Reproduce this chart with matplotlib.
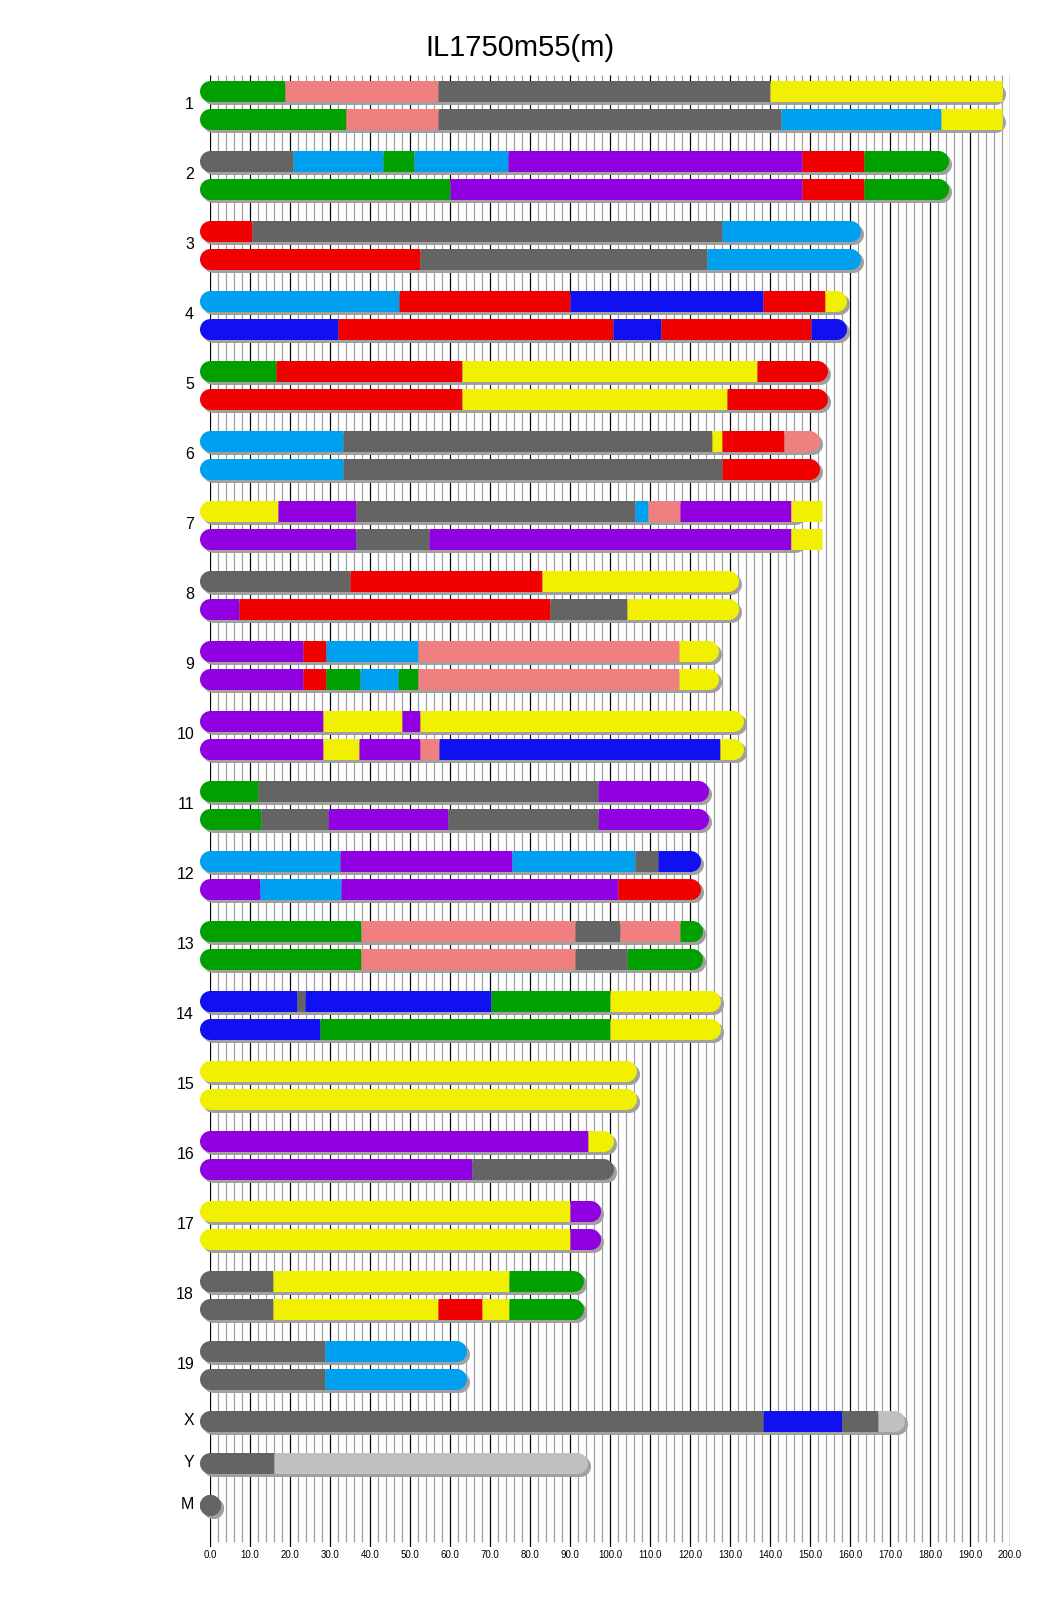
import matplotlib
matplotlib.use("Agg")
import matplotlib.pyplot as plt
from matplotlib.transforms import offset_copy

plt.rcParams['font.family'] = ['Liberation Sans', 'DejaVu Sans']

# founder colours (CC letters), N = no call
colors = {'A': '#f0f000', 'B': '#646464', 'C': '#f08080', 'D': '#1010f0',
          'E': '#00a0f0', 'F': '#00a000', 'G': '#f00000', 'H': '#9000e0',
          'N': '#c0c0c0'}

chrom_names = ['1', '2', '3', '4', '5', '6', '7', '8', '9', '10', '11', '12',
               '13', '14', '15', '16', '17', '18', '19', 'X', 'Y', 'M']
chrom_len = [195.5, 182.1, 160.0, 156.5, 151.8, 149.7, 145.4, 129.4, 124.6,
             130.7, 122.1, 120.1, 120.4, 124.9, 104.0, 98.2, 95.0, 90.7, 61.4,
             171.0, 91.7, 0.016]

# haplotype 1 (upper bar): strain per segment and segment ends (Mb)
hap1_strains = ['FCBA', 'BEFEHGF', 'GBE', 'EGDGA', 'FGAG', 'EBAGC', 'AHBECHA',
                'BGA', 'HGECA', 'HAHA', 'FBH', 'EHEBD', 'FCBCF', 'DBDFA', 'A',
                'HA', 'AH', 'BAF', 'BE', 'BDBN', 'BN', 'B']
hap1_ends = [
    [18.8, 57.0, 140.1, 198.0],
    [20.8, 43.3, 51.0, 74.5, 148.0, 163.6, 182.1],
    [10.4, 127.9, 160.0],
    [47.2, 90.0, 138.2, 153.7, 156.5],
    [16.6, 63.0, 136.7, 151.8],
    [33.3, 125.6, 128.0, 143.6, 149.7],
    [17.1, 36.4, 106.2, 109.4, 117.5, 145.25, 153.0],
    [35.1, 83.05, 129.4],
    [23.3, 28.9, 51.9, 117.3, 124.6],
    [28.2, 48.0, 52.4, 130.7],
    [11.9, 97.0, 122.1],
    [32.5, 75.6, 106.2, 111.9, 120.1],
    [37.7, 91.3, 102.6, 117.6, 120.4],
    [21.7, 23.8, 70.2, 100.1, 124.9],
    [104.0],
    [94.6, 98.2],
    [90.0, 95.0],
    [15.8, 74.8, 90.7],
    [28.8, 61.4],
    [138.2, 158.0, 167.1, 171.0],
    [16.0, 91.7],
    [0.016],
]

# haplotype 2 (lower bar), none for X, Y, M
hap2_strains = ['FCBEA', 'FHGF', 'GBE', 'DGDGD', 'GAG', 'EBG', 'HBHA', 'HGBA',
                'HGFEFCA', 'HAHCDA', 'FBHBH', 'HEHG', 'FCBF', 'DFA', 'A', 'HB',
                'AH', 'BAGAF', 'BE', None, None, None]
hap2_ends = [
    [34.0, 57.0, 142.8, 182.8, 198.0],
    [60.0, 148.0, 163.6, 182.1],
    [52.6, 124.3, 160.0],
    [32.0, 100.8, 112.7, 150.3, 156.5],
    [63.0, 129.2, 151.8],
    [33.3, 128.0, 149.7],
    [36.4, 54.7, 145.25, 153.0],
    [7.3, 85.1, 104.2, 129.4],
    [23.3, 28.9, 37.4, 47.0, 51.9, 117.3, 124.6],
    [28.2, 37.2, 52.4, 57.3, 127.6, 130.7],
    [12.7, 29.4, 59.6, 97.0, 122.1],
    [12.4, 32.8, 101.9, 120.1],
    [37.7, 91.3, 104.2, 120.4],
    [27.4, 100.1, 124.9],
    [104.0],
    [65.5, 98.2],
    [90.0, 95.0],
    [15.8, 57.0, 68.1, 74.8, 90.7],
    [28.8, 61.4],
    None, None, None,
]

W, H = 1040, 1616
fig = plt.figure(figsize=(W / 100, H / 100), dpi=100)
top_px, bot_px = 74, 1547
ax = fig.add_axes([210 / W, (H - bot_px) / H, 800 / W, (bot_px - top_px) / H])
ax.set_xlim(0, 200)
ax.set_ylim(bot_px, top_px)
ax.axis('off')

# grid: black every 10, grey every 2
for x in range(0, 201, 2):
    if x % 10 == 0:
        ax.vlines(x, top_px + 1, bot_px, color='black', lw=0.9, zorder=1)
        ax.text(x, 1555, '%.1f' % x, ha='center', va='center', fontsize=7)
    else:
        ax.vlines(x, top_px + 1, bot_px - 5, color='#a0a0a0', lw=0.9, zorder=1)

bar_lw = 21 * 72 / 100
shadow = offset_copy(ax.transData, fig=fig, x=3, y=-3, units='dots')


def draw_bar(y, length, strains, ends):
    # shadow
    ax.plot([0, length], [y, y], color='#a0a0a0', lw=bar_lw,
            solid_capstyle='butt', transform=shadow, zorder=2, clip_on=False)
    ax.plot([0, length], [y, y], 'o', ms=bar_lw, mew=0, color='#a0a0a0',
            transform=shadow, zorder=2, clip_on=False)
    # rounded ends
    ax.plot([0], [y], 'o', ms=bar_lw, mew=0, color=colors[strains[0]],
            zorder=3, clip_on=False)
    ax.plot([length], [y], 'o', ms=bar_lw, mew=0, color=colors[strains[-1]],
            zorder=3, clip_on=False)
    start = 0
    for s, e in zip(strains, ends):
        ax.plot([start, e], [y, y], color=colors[s], lw=bar_lw,
                solid_capstyle='butt', zorder=4, clip_on=False)
        start = e


y = 90.5
for i, name in enumerate(chrom_names):
    ys = [y]
    draw_bar(y, chrom_len[i], hap1_strains[i], hap1_ends[i])
    if hap2_strains[i] is not None:
        ys.append(y + 28)
        draw_bar(y + 28, chrom_len[i], hap2_strains[i], hap2_ends[i])
    ax.text(-4.0, sum(ys) / len(ys), name, ha='right', va='center', fontsize=11.5)
    y = ys[-1] + 42

fig.text(0.5, 1 - 48 / H, 'IL1750m55(m)', ha='center', va='center', fontsize=21)

fig.savefig('out.png', dpi=100)
